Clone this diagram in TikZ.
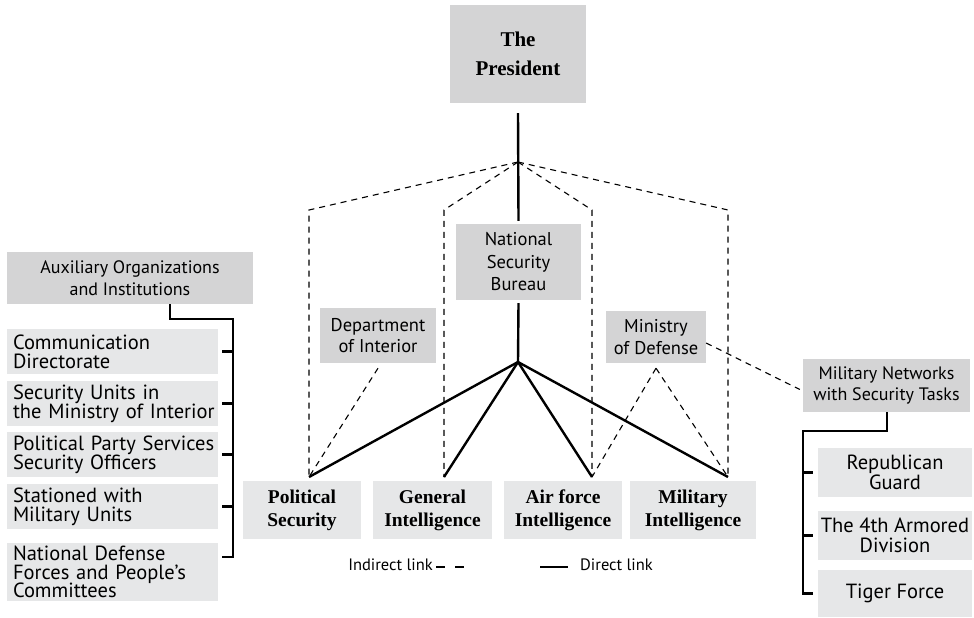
\documentclass[tikz,border=0pt]{standalone}
\usepackage{fontspec}
\setmainfont{Liberation Serif}
\setsansfont{PT Sans}
\definecolor{dgray}{RGB}{212,212,213}
\definecolor{lgray}{RGB}{230,231,232}
\tikzset{
 dbox/.style={fill=dgray, inner sep=0pt, align=center, font=\sffamily\fontsize{18}{21.5}\selectfont},
 rbox/.style={fill=lgray, inner sep=0pt, align=center, minimum width=154pt, font=\sffamily\fontsize{20.5}{19.5}\selectfont},
 itembox/.style={fill=lgray, inner xsep=6pt, inner ysep=0pt, align=left, text width=199pt, minimum height=45pt, font=\sffamily\fontsize{20.5}{18.8}\selectfont},
 sbox/.style={fill=lgray, inner sep=0pt, align=center, minimum height=58pt, font=\bfseries\fontsize{19.5}{23}\selectfont},
 legtext/.style={inner sep=0pt, font=\sffamily\fontsize{16.5}{18}\selectfont},
 direct/.style={line width=2.4pt},
 indirect/.style={line width=1.1pt, dash pattern=on 6pt off 5pt},
 brk/.style={line width=2.2pt}
}
\begin{document}
\begin{tikzpicture}[x=1pt,y=-1pt]
\useasboundingbox (0,0) rectangle (974,618);
% top
\node[fill=dgray, inner sep=0pt, minimum width=136pt, minimum height=98pt, align=center, font=\bfseries\fontsize{21}{29}\selectfont] (pres) at (518,54) {The\\President};
\node[dbox, minimum width=125pt, minimum height=76pt, font=\sffamily\fontsize{18.5}{22.5}\selectfont] (nsb) at (518.5,262) {National\\Security\\Bureau};
\node[dbox, minimum width=116pt, minimum height=55pt, font=\sffamily\fontsize{18.5}{21.5}\selectfont] (doi) at (378,335.5) {Department\\of Interior};
\node[dbox, minimum width=100pt, minimum height=52pt, font=\sffamily\fontsize{18.5}{21.5}\selectfont] (mod) at (656,337) {Ministry\\of Defense};
\node[dbox, minimum width=167pt, minimum height=53pt] (mnet) at (886.5,385.5) {Military Networks\\with Security Tasks};
\node[dbox, minimum width=246pt, minimum height=52pt] (aux) at (130,278) {Auxiliary Organizations\\and Institutions};
% left items
\node[itembox] (c1) at (112.5,351.5) {Communication\\Directorate};
\node[itembox] (c2) at (112.5,403.5) {Security Units in\\\mbox{the Ministry of Interior}};
\node[itembox] (c3) at (112.5,454.5) {\mbox{Political Party Services}\\Security Officers};
\node[itembox] (c4) at (112.5,506.5) {Stationed with\\Military Units};
\node[itembox, minimum height=58pt] (c5) at (112.5,572) {National Defense\\Forces and People\symbol{"27}s\\Committees};
% right items
\node[rbox, minimum height=49pt] (r1) at (895,472.5) {Republican\\Guard};
\node[rbox, minimum height=49pt] (r2) at (895,535.5) {The 4th Armored\\Division};
\node[rbox, minimum height=47pt] (r3) at (895,593.5) {Tiger Force};
% services
\node[sbox, minimum width=118pt] (ps) at (302,510) {Political\\Security};
\node[sbox, minimum width=119pt] (gi) at (432.5,510) {General\\Intelligence};
\node[sbox, minimum width=118pt] (af) at (563,510) {Air force\\Intelligence};
\node[sbox, minimum width=126pt] (mi) at (693,510) {Military\\Intelligence};
% coordinates
\coordinate (hub) at (518,162);
\coordinate (hub2) at (518,362);
\coordinate (p1) at (309,477);
\coordinate (p2) at (444,477);
\coordinate (p3) at (592,477);
\coordinate (p4) at (728,477);
\coordinate (k1) at (309,210);
\coordinate (k2) at (444,210);
\coordinate (k3) at (592,210);
\coordinate (k4) at (728,210);
% indirect links
\draw[indirect] (hub) -- (k1) -- (p1);
\draw[indirect] (hub) -- (k2) -- (p2);
\draw[indirect] (hub) -- (k3) -- (p3);
\draw[indirect] (hub) -- (k4) -- (p4);
\draw[indirect] ([yshift=-5pt]doi.south) -- (p1);
\draw[indirect] ([yshift=-5pt]mod.south) -- (p3);
\draw[indirect] ([yshift=-5pt]mod.south) -- (p4);
\draw[indirect] ([yshift=-6pt]mod.east) -- ([xshift=-3pt,yshift=-4pt]mnet.west);
% direct links
\draw[direct] ([yshift=-10pt]pres.south) -- ([yshift=3pt]nsb.north);
\draw[direct] ([yshift=-3pt]nsb.south) -- (hub2);
\draw[direct] (hub2) -- (p1);
\draw[direct] (hub2) -- (p2);
\draw[direct] (hub2) -- (p3);
\draw[direct] (hub2) -- (p4);
% left bracket
\coordinate (lb) at (233,319);
\draw[brk] ([xshift=40pt]aux.south) |- (lb) -- ([yshift=15pt]c5.east -| lb) -- ([xshift=4pt,yshift=15pt]c5.east);
\draw[brk] (lb |- c1) -- ([xshift=4pt]c1.east);
\draw[brk] (lb |- c2) -- ([xshift=4pt]c2.east);
\draw[brk] (lb |- c3) -- ([xshift=4pt]c3.east);
\draw[brk] (lb |- c4) -- ([xshift=4pt]c4.east);
% right bracket
\coordinate (rb) at (803,431);
\draw[brk] ([xshift=0.5pt]mnet.south) |- (rb) -- (rb |- r3) -- ([xshift=-5pt]r3.west);
\draw[brk] (rb |- r1) -- ([xshift=-5pt]r1.west);
\draw[brk] (rb |- r2) -- ([xshift=-5pt]r2.west);
% legend
\node[legtext, anchor=east] (ind) at (433,565) {Indirect link};
\coordinate (li1) at (436,567);
\coordinate (li2) at (464,567);
\draw[line width=2pt, dash pattern=on 9pt off 10pt] (li1) -- (li2);
\coordinate (ld1) at (540,567);
\coordinate (ld2) at (568,567);
\draw[line width=2.4pt] (ld1) -- (ld2);
\node[legtext, anchor=west] (dir) at (580,565) {Direct link};
\end{tikzpicture}
\end{document}
